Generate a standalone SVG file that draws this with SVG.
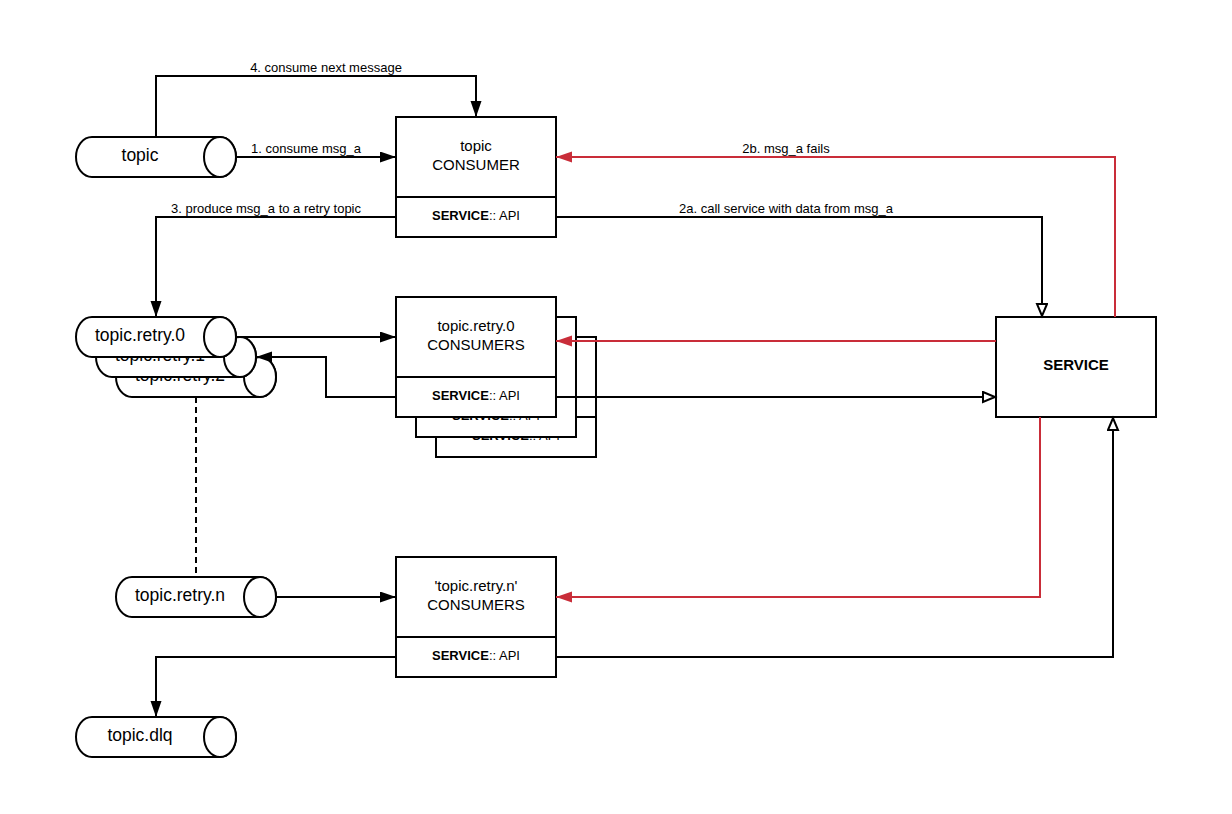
<svg xmlns="http://www.w3.org/2000/svg" width="1232" height="814" viewBox="0 0 1232 814">
<style>
.shape{fill:#fff;stroke:#000;stroke-width:2}
.ln{fill:none;stroke:#000;stroke-width:2}
.red{fill:none;stroke:#c92d39;stroke-width:2}
.dash{fill:none;stroke:#000;stroke-width:2;stroke-dasharray:6,4}
.cyl{font-family:"Liberation Sans",Arial,sans-serif;font-size:17.5px;fill:#000;text-anchor:middle}
.box{font-family:"Liberation Sans",Arial,sans-serif;font-size:15px;fill:#000;text-anchor:middle}
.api{font-family:"Liberation Sans",Arial,sans-serif;font-size:13px;fill:#000;text-anchor:middle}
.lbl{font-family:"Liberation Sans",Arial,sans-serif;font-size:13px;fill:#000;text-anchor:middle}
.bold{font-weight:bold}
</style>
<defs>
<marker id="fa" markerUnits="userSpaceOnUse" markerWidth="18" markerHeight="12" refX="16" refY="5.5" orient="auto">
<path d="M0,0 L16,5.5 L0,11 Z" fill="#000"/>
</marker>
<marker id="ra" markerUnits="userSpaceOnUse" markerWidth="18" markerHeight="12" refX="16" refY="5.5" orient="auto">
<path d="M0,0 L16,5.5 L0,11 Z" fill="#c92d39"/>
</marker>
<marker id="oa" markerUnits="userSpaceOnUse" markerWidth="16" markerHeight="14" refX="14" refY="6" orient="auto">
<path d="M1,1 L13,6 L1,11 Z" fill="#fff" stroke="#000" stroke-width="2"/>
</marker>
</defs>
<rect width="1232" height="814" fill="#fff"/>

<g id="topic">
<path class="shape" d="M92,137 H220 A16,20 0 0 1 220,177 H92 A16,20 0 0 1 92,137 Z"/>
<ellipse class="shape" cx="220" cy="157" rx="16" ry="20"/>
<text class="cyl" x="140" y="161">topic</text>
</g>

<g id="topic-consumer">
<rect class="shape" x="396" y="117" width="160" height="120"/>
<line class="ln" x1="396" y1="197" x2="556" y2="197"/>
<text class="box" x="476" y="151">topic</text>
<text class="box" x="476" y="170">CONSUMER</text>
<text class="api" x="476" y="220"><tspan class="bold">SERVICE</tspan>:: API</text>
</g>

<g id="topic-retry-2">
<path class="shape" d="M132,357 H260 A16,20 0 0 1 260,397 H132 A16,20 0 0 1 132,357 Z"/>
<ellipse class="shape" cx="260" cy="377" rx="16" ry="20"/>
<text class="cyl" x="180" y="381">topic.retry.2</text>
</g>
<g id="topic-retry-1">
<path class="shape" d="M112,337 H240 A16,20 0 0 1 240,377 H112 A16,20 0 0 1 112,337 Z"/>
<ellipse class="shape" cx="240" cy="357" rx="16" ry="20"/>
<text class="cyl" x="160" y="361">topic.retry.1</text>
</g>
<g id="topic-retry-0">
<path class="shape" d="M92,317 H220 A16,20 0 0 1 220,357 H92 A16,20 0 0 1 92,317 Z"/>
<ellipse class="shape" cx="220" cy="337" rx="16" ry="20"/>
<text class="cyl" x="140" y="341">topic.retry.0</text>
</g>

<g id="retry-consumer-3">
<rect class="shape" x="436" y="337" width="160" height="120"/>
<line class="ln" x1="436" y1="417" x2="596" y2="417"/>
<text class="api" x="516" y="440"><tspan class="bold">SERVICE</tspan>:: API</text>
</g>
<g id="retry-consumer-2">
<rect class="shape" x="416" y="317" width="160" height="120"/>
<line class="ln" x1="416" y1="397" x2="576" y2="397"/>
<text class="api" x="496" y="420"><tspan class="bold">SERVICE</tspan>:: API</text>
</g>
<g id="retry-consumer-1">
<rect class="shape" x="396" y="297" width="160" height="120"/>
<line class="ln" x1="396" y1="377" x2="556" y2="377"/>
<text class="box" x="476" y="331">topic.retry.0</text>
<text class="box" x="476" y="350">CONSUMERS</text>
<text class="api" x="476" y="400"><tspan class="bold">SERVICE</tspan>:: API</text>
</g>

<g id="service">
<rect class="shape" x="996" y="317" width="160" height="100"/>
<text class="box bold" x="1076" y="370">SERVICE</text>
</g>

<g id="topic-retry-n">
<path class="shape" d="M132,577 H260 A16,20 0 0 1 260,617 H132 A16,20 0 0 1 132,577 Z"/>
<ellipse class="shape" cx="260" cy="597" rx="16" ry="20"/>
<text class="cyl" x="180" y="601">topic.retry.n</text>
</g>

<g id="retry-n-consumer">
<rect class="shape" x="396" y="557" width="160" height="120"/>
<line class="ln" x1="396" y1="637" x2="556" y2="637"/>
<text class="box" x="476" y="591">'topic.retry.n'</text>
<text class="box" x="476" y="610">CONSUMERS</text>
<text class="api" x="476" y="660"><tspan class="bold">SERVICE</tspan>:: API</text>
</g>

<g id="topic-dlq">
<path class="shape" d="M92,717 H220 A16,20 0 0 1 220,757 H92 A16,20 0 0 1 92,717 Z"/>
<ellipse class="shape" cx="220" cy="737" rx="16" ry="20"/>
<text class="cyl" x="140" y="741">topic.dlq</text>
</g>

<g id="connectors">
<path class="ln" d="M236,157 H396" marker-end="url(#fa)"/>
<text class="lbl" x="306" y="153">1. consume msg_a</text>
<path class="ln" d="M156,137 V76 H476 V117" marker-end="url(#fa)"/>
<text class="lbl" x="326" y="72">4. consume next message</text>
<path class="ln" d="M396,217 H156 V317" marker-end="url(#fa)"/>
<text class="lbl" x="266" y="213">3. produce msg_a to a retry topic</text>
<path class="ln" d="M556,217 H1042 V317" marker-end="url(#oa)"/>
<text class="lbl" x="786" y="213">2a. call service with data from msg_a</text>
<path class="red" d="M1115,317 V157 H556" marker-end="url(#ra)"/>
<text class="lbl" x="786" y="153">2b. msg_a fails</text>
<path class="ln" d="M236,337 H396" marker-end="url(#fa)"/>
<path class="ln" d="M396,397 H326 V357 H256" marker-end="url(#fa)"/>
<path class="ln" d="M556,397 H996" marker-end="url(#oa)"/>
<path class="red" d="M996,341 H556" marker-end="url(#ra)"/>
<path class="dash" d="M196,397 V577"/>
<path class="ln" d="M276,597 H396" marker-end="url(#fa)"/>
<path class="red" d="M1040,417 V597 H556" marker-end="url(#ra)"/>
<path class="ln" d="M556,657 H1113 V417" marker-end="url(#oa)"/>
<path class="ln" d="M396,657 H156 V717" marker-end="url(#fa)"/>
</g>
</svg>
